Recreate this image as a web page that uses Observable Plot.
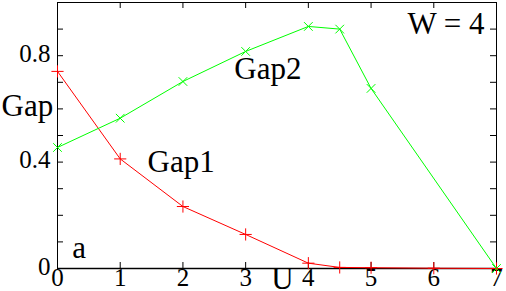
<!DOCTYPE html>
<html><head><meta charset="utf-8">
<script src="https://cdn.jsdelivr.net/npm/d3@7"></script>
<script src="https://cdn.jsdelivr.net/npm/@observablehq/plot@0.6"></script>
<style>html,body{margin:0;padding:0;background:#fff} svg{display:block} svg text{font-family:"Liberation Serif","Times New Roman",serif !important;}</style>
</head><body><div id="chart"></div>
<script>
// Data
const uGap1 = [0, 1, 2, 3, 4, 4.5, 5, 6, 7];
const gap1  = [0.741, 0.412, 0.233, 0.128, 0.02, 0.004, 0.003, 0.001, 0];
const uGap2 = [0, 1, 2, 3, 4, 4.5, 5, 7];
const gap2  = [0.455, 0.565, 0.703, 0.816, 0.91, 0.9, 0.677, 0];
const xTicks = [0, 1, 2, 3, 4, 5, 6, 7];
const xTickLabels = ["0", "1", "2", "3", "4", "5", "6", "7"];
const yTicks = [0, 0.1, 0.2, 0.3, 0.4, 0.5, 0.6, 0.7, 0.8, 0.9, 1.0];
const yLabelValues = [0, 0.4, 0.8];
const yLabelTexts = ["0", "0.4", "0.8"];
const notes = [
  {x: 1.435, y: 0.361, text: "Gap1"},
  {x: 2.82, y: 0.714, text: "Gap2"},
  {x: 0.234, y: 0.0376, text: "a"}
];
const titleNote = {x: 6.81, y: 0.883, text: "W = 4"};

const s1 = uGap1.map((u, i) => ({u, g: gap1[i]}));
const s2 = uGap2.map((u, i) => ({u, g: gap2[i]}));
const FF = "'Liberation Serif', 'Times New Roman', serif";

const chart = Plot.plot({
  width: 506, height: 291,
  marginLeft: 57, marginRight: 10, marginTop: 2, marginBottom: 23,
  style: {fontFamily: FF},
  x: {domain: [0, 7], axis: null},
  y: {domain: [0, 1], axis: null},
  marks: [
    Plot.ruleY([0], {stroke: "#888", strokeWidth: 2}),
    Plot.frame({stroke: "black", strokeWidth: 1}),
    Plot.ruleX(xTicks, {x: d => d, insetTop: 260, stroke: "black"}),
    Plot.ruleX(xTicks, {x: d => d, insetBottom: 260, stroke: "black"}),
    Plot.ruleY(yTicks, {y: d => d, insetRight: 433, stroke: "black"}),
    Plot.ruleY(yTicks, {y: d => d, insetLeft: 433, stroke: "black"}),
    Plot.text(xTicks, {x: d => d, text: (d, i) => xTickLabels[i], frameAnchor: "bottom", lineAnchor: "bottom", dy: 17, fontSize: 25, fontFamily: FF, fill: "black"}),
    Plot.text(yLabelValues, {y: d => d, text: (d, i) => yLabelTexts[i], frameAnchor: "left", textAnchor: "end", lineAnchor: "bottom", dx: -7, dy: 6, fontSize: 25, fontFamily: FF, fill: "black"}),
    Plot.line(s1, {x: "u", y: "g", stroke: "#ff0000", strokeWidth: 1}),
    Plot.dot(s1, {x: "u", y: "g", symbol: "plus", stroke: "#ff0000", r: 4, strokeWidth: 1}),
    Plot.line(s2, {x: "u", y: "g", stroke: "#00ff00", strokeWidth: 1}),
    Plot.dot(s2, {x: "u", y: "g", symbol: "times", stroke: "#00ff00", r: 4, strokeWidth: 1}),
    Plot.text(notes, {x: "x", y: "y", text: "text", textAnchor: "start", lineAnchor: "bottom", fontSize: 31, fontFamily: FF, fill: "black"}),
    Plot.text([titleNote], {x: "x", y: "y", text: "text", textAnchor: "end", lineAnchor: "bottom", fontSize: 31, fontFamily: FF, fill: "black"}),
    Plot.text(["Gap"], {text: d => d, frameAnchor: "left", textAnchor: "start", lineAnchor: "bottom", dx: -56, dy: -20, fontSize: 31, fontFamily: FF, fill: "black"}),
    Plot.text(["U"], {text: d => d, frameAnchor: "bottom", textAnchor: "middle", lineAnchor: "bottom", dx: 5.5, dy: 20, fontSize: 31, fontFamily: FF, fill: "black"})
  ]
});
document.getElementById("chart").append(chart);
</script>
</body></html>
